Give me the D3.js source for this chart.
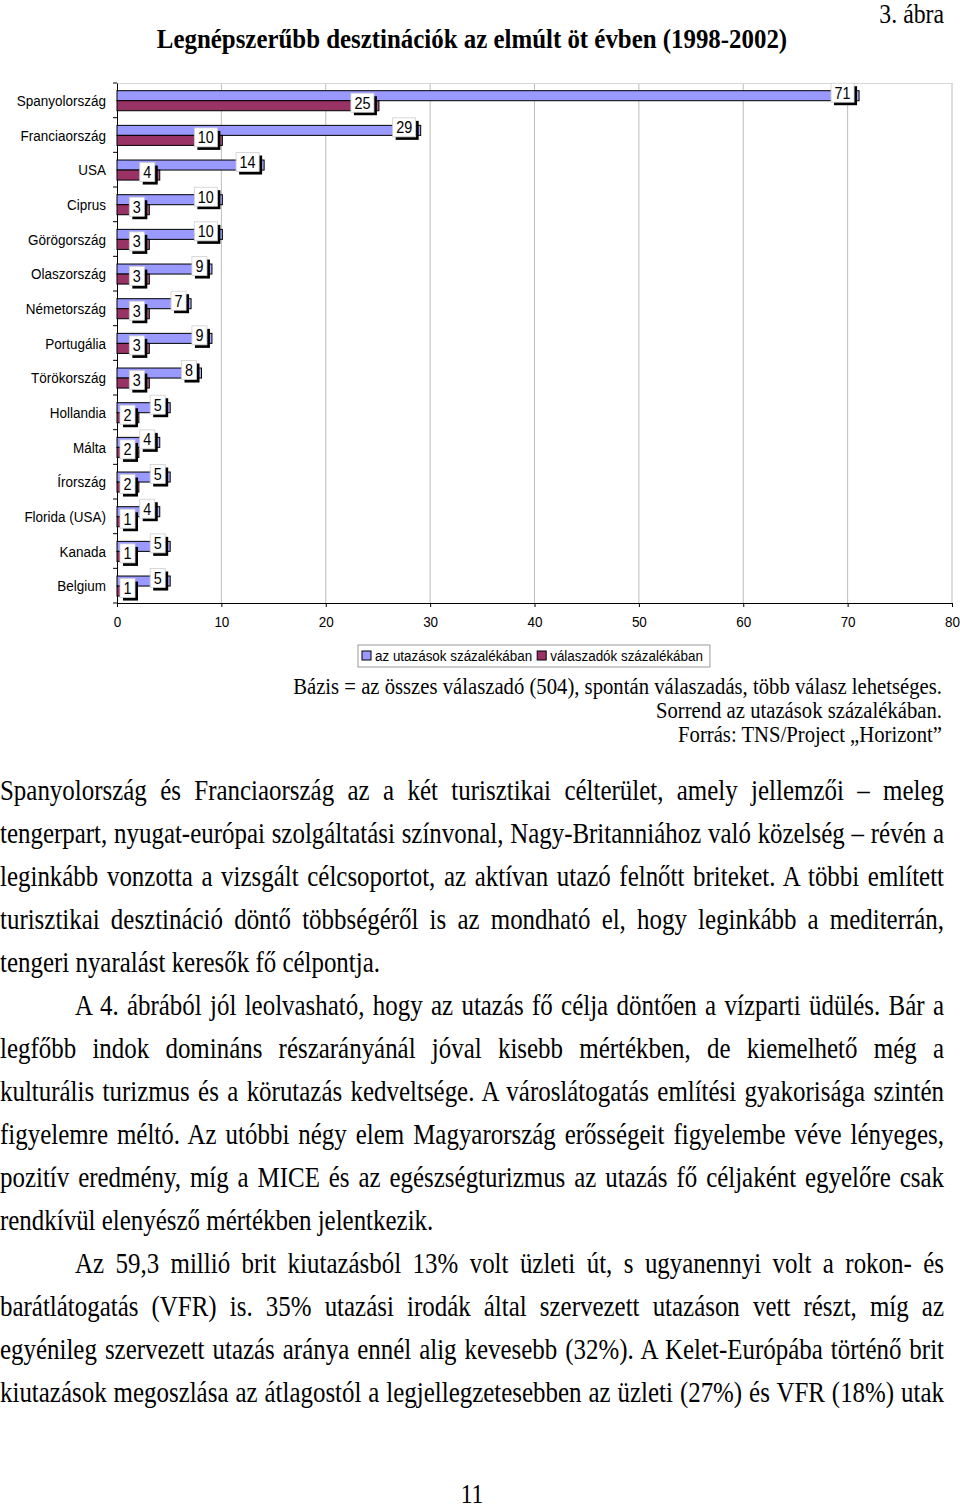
<!DOCTYPE html>
<html><head><meta charset="utf-8">
<script src="https://cdn.jsdelivr.net/npm/d3@7"></script>
<style>body{margin:0;background:#fff}svg{display:block}</style>
</head><body>
<svg id="c" width="960" height="1508"></svg>
<script>
const categories = ["Spanyolország","Franciaország","USA","Ciprus","Görögország","Olaszország","Németország","Portugália","Törökország","Hollandia","Málta","Írország","Florida (USA)","Kanada","Belgium"];
const tripsPct = [71,29,14,10,10,9,7,9,8,5,4,5,4,5,5];
const respondentsPct = [25,10,4,3,3,3,3,3,3,2,2,2,1,1,1];
const xTicks = [0,10,20,30,40,50,60,70,80];
const seriesNames = ["az utazások százalékában","válaszadók százalékában"];
const seriesColors = ["#9999ff","#993366"];
const titleText = "Legnépszerűbb desztinációk az elmúlt öt évben (1998-2002)";
const figLabel = "3. ábra";
const notes = ["Bázis = az összes válaszadó (504), spontán válaszadás, több válasz lehetséges.","Sorrend az utazások százalékában.","Forrás: TNS/Project „Horizont”"];
const bodyLines = [
 ["Spanyolország és Franciaország az a két turisztikai célterület, amely jellemzői – meleg",0,1],
 ["tengerpart, nyugat-európai szolgáltatási színvonal, Nagy-Britanniához való közelség – révén a",0,1],
 ["leginkább vonzotta a vizsgált célcsoportot, az aktívan utazó felnőtt briteket. A többi említett",0,1],
 ["turisztikai desztináció döntő többségéről is az mondható el, hogy leginkább a mediterrán,",0,1],
 ["tengeri nyaralást keresők fő célpontja.",0,0],
 ["A 4. ábrából jól leolvasható, hogy az utazás fő célja döntően a vízparti üdülés. Bár a",1,1],
 ["legfőbb indok domináns részarányánál jóval kisebb mértékben, de kiemelhető még a",0,1],
 ["kulturális turizmus és a körutazás kedveltsége. A városlátogatás említési gyakorisága szintén",0,1],
 ["figyelemre méltó. Az utóbbi négy elem Magyarország erősségeit figyelembe véve lényeges,",0,1],
 ["pozitív eredmény, míg a MICE és az egészségturizmus az utazás fő céljaként egyelőre csak",0,1],
 ["rendkívül elenyésző mértékben jelentkezik.",0,0],
 ["Az 59,3 millió brit kiutazásból 13% volt üzleti út, s ugyanennyi volt a rokon- és",1,1],
 ["barátlátogatás (VFR) is. 35% utazási irodák által szervezett utazáson vett részt, míg az",0,1],
 ["egyénileg szervezett utazás aránya ennél alig kevesebb (32%). A Kelet-Európába történő brit",0,1],
 ["kiutazások megoszlása az átlagostól a legjellegzetesebben az üzleti (27%) és VFR (18%) utak",0,1]
];
const pageNumber = "11";

const SANS = "'Liberation Sans', Arial, sans-serif";
const SERIF = "'Liberation Serif', 'Times New Roman', serif";
const svg = d3.select("#c");

function txt(g, s, x, y, font, size, anchor, k, weight){
  return g.append("text").attr("x",0).attr("y",0)
    .attr("transform",`translate(${x},${y}) scale(${k},1)`)
    .attr("font-family",font).attr("font-size",size)
    .attr("text-anchor",anchor||"start").attr("fill","#000")
    .attr("font-weight",weight||"normal").text(s);
}
const w = t => t.node().getComputedTextLength();

txt(svg, figLabel, 944, 23, SERIF, 27, "end", 0.88);
txt(svg, titleText, 472, 48, SERIF, 27.5, "middle", 0.905, "bold");

const CK = 0.87, CF = 15.5;
const x = d3.scaleLinear().domain([0,80]).range([117,952]);
const y = d3.scaleBand().domain(categories).range([83,603]);
const sub = d3.scaleBand().domain([0,1]).range([y.bandwidth()*0.222, y.bandwidth()*0.8]);
const ch = svg.append("g");

ch.append("g").selectAll("line").data(xTicks.filter(d=>d>0)).join("line")
  .attr("x1",d=>x(d)).attr("x2",d=>x(d)).attr("y1",y.range()[0]).attr("y2",y.range()[1])
  .attr("stroke","#bdbdbd").attr("stroke-width",1);
ch.append("line").attr("x1",x(0)).attr("x2",x(80)).attr("y1",y.range()[0]+0.5).attr("y2",y.range()[0]+0.5)
  .attr("stroke","#d8d8d8");

const xa = ch.append("g").attr("transform",`translate(0,${y.range()[1]})`)
  .call(d3.axisBottom(x).tickValues(xTicks).tickSize(4).tickPadding(9).tickSizeOuter(0));
xa.select(".domain").attr("stroke","#000");
xa.selectAll("text").attr("font-family",SANS).attr("font-size",CF).attr("fill","#000")
  .attr("transform",`scale(${CK},1)`);

const ya = ch.append("g").attr("transform",`translate(${x(0)},0)`)
  .call(d3.axisLeft(y).tickSize(0).tickPadding(11));
ya.select(".domain").attr("stroke","#000");
ya.selectAll("text").attr("font-family",SANS).attr("font-size",CF).attr("fill","#000")
  .attr("x",-11/CK).attr("dy","0.36em").attr("transform",`scale(${CK},1)`);
ch.append("g").selectAll("line").data(d3.range(categories.length+1)).join("line")
  .attr("x1",x(0)-4).attr("x2",x(0))
  .attr("y1",i=>y.range()[0]+i*y.step()).attr("y2",i=>y.range()[0]+i*y.step())
  .attr("stroke","#000");

const series = [tripsPct, respondentsPct];
const items = [];
categories.forEach((c,i)=>series.forEach((s,j)=>items.push({c, j, v:s[i]})));
const bars = ch.append("g");
items.forEach(d=>{
  const y0 = y(d.c)+sub(d.j), h = sub.bandwidth(), xe = x(d.v);
  bars.append("rect").attr("x",x(0)).attr("y",y0).attr("width",xe-3-x(0)).attr("height",h)
    .attr("fill",seriesColors[d.j]).attr("stroke","#000").attr("stroke-width",1);
  bars.append("rect").attr("x",xe-3).attr("y",y0).attr("width",4).attr("height",h)
    .attr("fill",seriesColors[d.j]).attr("fill-opacity",0.8).attr("stroke","#000").attr("stroke-width",1);
});
const lab = ch.append("g");
items.forEach(d=>{
  const yc = y(d.c)+sub(d.j)+sub.bandwidth()/2 - 3;
  const g = lab.append("g");
  const t = txt(g, String(d.v), 0, 0, SANS, 16, "middle", 0.9);
  const tw = w(t)*0.9;
  const bw = tw+7, bh = 19;
  let right = x(d.v)-4;
  if(right-bw < x(0)+3) right = x(0)+3+bw;
  const lx = right-bw, ly = yc-bh/2;
  g.insert("rect","text").attr("x",lx+3).attr("y",ly+3).attr("width",bw).attr("height",bh).attr("fill","#000");
  g.insert("rect","text").attr("x",lx).attr("y",ly).attr("width",bw).attr("height",bh).attr("fill","#fff").attr("stroke","#cfcfcf").attr("stroke-width",0.8);
  t.attr("transform",`translate(${lx+bw/2},${yc+6}) scale(0.9,1)`);
});

const LK = 0.865;
const lg = svg.append("g");
const lgBox = lg.append("rect").attr("x",358).attr("y",645).attr("width",353).attr("height",22)
  .attr("fill","#fff").attr("stroke","#999");
let lxp = 362;
seriesNames.forEach((n,i)=>{
  lg.append("rect").attr("x",lxp).attr("y",651).attr("width",9).attr("height",9)
    .attr("fill",seriesColors[i]).attr("stroke","#000");
  const t = txt(lg, n, lxp+13, 661, SANS, 15.5, "start", LK);
  lxp += 13 + w(t)*LK + 5;
});
lgBox.attr("width", lxp + 2 - 358);

notes.forEach((n,i)=> txt(svg, n, 942, 694+i*24, SERIF, 22.5, "end", 0.92));

const body = svg.append("g");
const W = 944, BS = 28.5, BK = 0.875;
bodyLines.forEach((L,i)=>{
  const [s, indent, just] = L;
  const yb = 800 + i*43;
  const x0 = indent ? 75 : 0;
  const t = txt(body, s, x0, yb, SERIF, BS, "start", BK);
  if(just){
    const nat = w(t);
    const nsp = s.split(" ").length-1;
    t.attr("word-spacing", ((W - x0)/BK - nat)/nsp);
  }
});

txt(svg, pageNumber, 472, 1503, SERIF, 27, "middle", 0.87);
</script>
</body></html>
